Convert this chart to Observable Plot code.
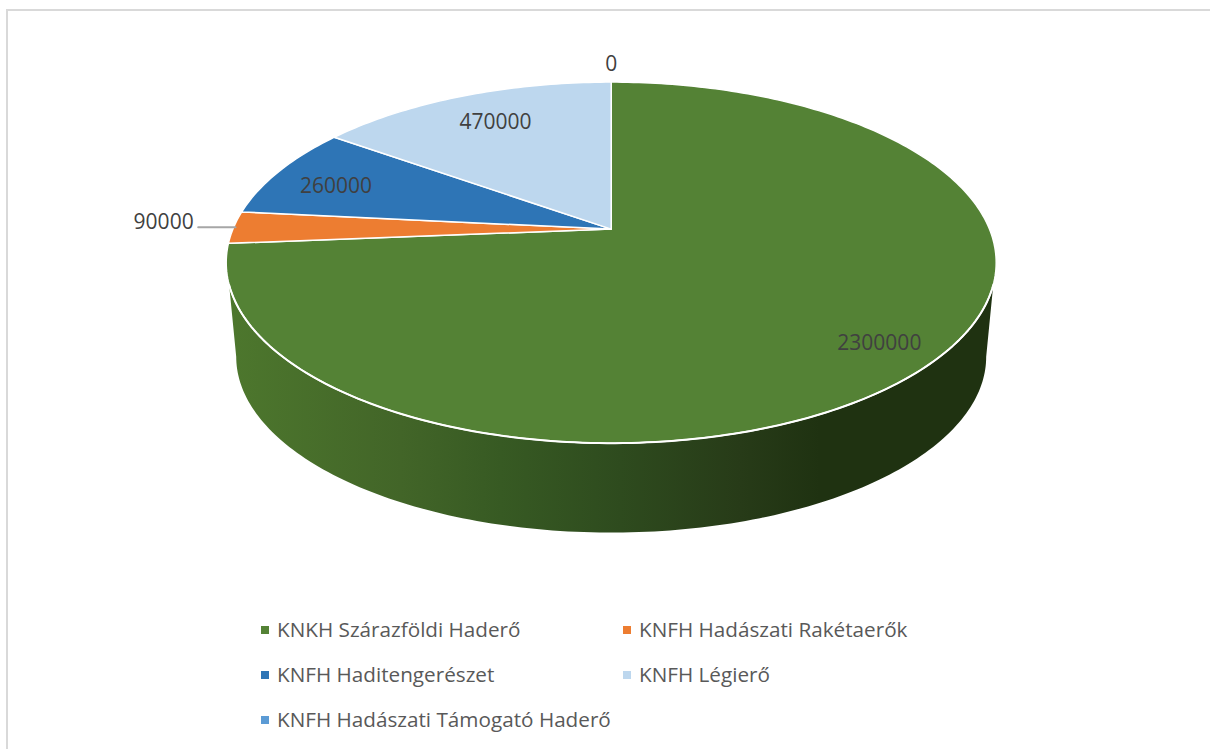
<!DOCTYPE html>
<html lang="hu">
<head>
<meta charset="utf-8">
<script src="https://cdn.jsdelivr.net/npm/d3@7"></script>
<script src="https://cdn.jsdelivr.net/npm/@observablehq/plot@0.6"></script>
<style>
  html, body { margin: 0; padding: 0; background: #fff; overflow: hidden; }
  body { position: relative; width: 1210px; height: 749px; }
  #frame { position: absolute; left: 6px; top: 9px; width: 1300px; height: 800px; border: 2px solid #d9d9d9; box-sizing: content-box; pointer-events: none; }
  #chart { position: absolute; left: 0; top: 0; }
  #chart svg { display: block; }
  #legend { position: absolute; left: 261px; top: 607px; display: grid; grid-template-columns: 362px auto; grid-auto-rows: 45px; font: 20.7px "Open Sans", sans-serif; color: #595959; }
  .item { display: flex; align-items: center; height: 45px; white-space: nowrap; }
  .item .name { position: relative; top: -1px; left: -1px; }
  .swatch { width: 8px; height: 8px; margin-right: 9px; flex: none; }
</style>
</head>
<body>
<div id="chart"></div>
<div id="legend"></div>
<div id="frame"></div>
<script>
// ---- data ----
const names = ["KNKH Szárazföldi Haderő", "KNFH Hadászati Rakétaerők", "KNFH Haditengerészet", "KNFH Légierő", "KNFH Hadászati Támogató Haderő"];
const values = [2300000, 90000, 260000, 470000, 0];
const colors = ["#548235", "#ED7D31", "#2E75B6", "#BDD7EE", "#5B9BD5"];

// ---- label placement (radial fraction, pixel nudges) ----
const labelRadius = [0.86, 1, 0.82, 0.77, 1];
const labelDx = [0, -70, 0, 2, 0];
const labelDy = [0, -5, 5, -1, -18];

// ---- view of the tilted disc ----
const W = 1210, H = 600;
const k = 0.1857;               // perspective strength
const apexPx = [610.7, 228.6], unitPx = [378.3, 174.3];
const base = {scale: 0.974, shift: 95 / 174.3}; // lower rim of the cylinder
const wallFrom = 107.6, wallTo = 252.4;         // top edge of the side wall, degrees
const baseFrom = 100.7, baseTo = 259.3;         // bottom edge of the side wall, degrees
const leaderEnd = -1.0917;

const rad = d => d * Math.PI / 180;
function project(deg, r = 1, rim = {scale: 1, shift: 0}) {
  const u = r * Math.sin(rad(deg)), v = -r * Math.cos(rad(deg)), w = 1 - k * v;
  return {x: rim.scale * u / w, y: rim.scale * v / w + rim.shift};
}
const arc = (a, b, rim) => {
  const n = Math.max(2, Math.ceil(Math.abs(b - a)));
  return d3.range(n + 1).map(i => project(a + (b - a) * i / n, 1, rim));
};

// slices from the values
const total = d3.sum(values);
let acc = 0;
const slices = names.map((name, i) => {
  const a = acc / total * 360; acc += values[i];
  const b = acc / total * 360;
  return {name, value: values[i], a, b, mid: (a + b) / 2, i};
});
const sliceRows = slices.filter(s => s.value > 0).flatMap(s => {
  const ring = [{x: 0, y: 0}, ...arc(s.a, s.b), {x: 0, y: 0}];
  return ring.map(p => ({...p, name: s.name}));
});
const wallRows = [...arc(wallFrom, wallTo), ...arc(baseTo, baseFrom, base)];
wallRows.push(wallRows[0]);
const rimRows = arc(wallFrom, wallTo);
const labelRows = slices.map(s => ({...project(s.mid === 360 ? 0 : s.mid, labelRadius[s.i]), text: String(s.value), dx: labelDx[s.i], dy: labelDy[s.i]}));
const orange = slices[1];
const leaderStart = project(orange.mid);
const leaderRows = [{x: leaderEnd, y: leaderStart.y}, {x: leaderStart.x * 0.995, y: leaderStart.y}];

// gradient of the side wall
const wallStops = [[0, "#4d772d"], [0.225, "#426528"], [0.356, "#375a23"], [0.512, "#2e4b1e"], [0.669, "#273b18"], [0.773, "#1f3211"], [1, "#1f3211"]];
function gradientDefs() {
  const svg = d3.create("svg:defs");
  const g = svg.append("linearGradient").attr("id", "wall");
  wallStops.forEach(([o, c]) => g.append("stop").attr("offset", o).attr("stop-color", c));
  return svg.node();
}

const labelMarks = labelRows.map(d => Plot.text([d], {
  x: "x", y: "y", text: "text", dx: d.dx, dy: d.dy,
  fontSize: 21, fill: "#404040", textAnchor: "middle"
}));

const plot = Plot.plot({
  width: W, height: H,
  margin: 0,
  style: {fontFamily: "'Open Sans', sans-serif", background: "transparent"},
  x: {domain: [-apexPx[0] / unitPx[0], (W - apexPx[0]) / unitPx[0]], range: [0, W], axis: null},
  y: {domain: [-apexPx[1] / unitPx[1], (H - apexPx[1]) / unitPx[1]], range: [0, H], axis: null},
  color: {domain: names, range: colors},
  marks: [
    gradientDefs,
    Plot.line(wallRows, {x: "x", y: "y", fill: "url(#wall)", stroke: "none"}),
    Plot.line(sliceRows, {x: "x", y: "y", z: "name", fill: "name", stroke: "#fff", strokeWidth: 1.5, strokeLinejoin: "round"}),
    Plot.line(rimRows, {x: "x", y: "y", stroke: "#fff", strokeWidth: 2}),
    Plot.line(leaderRows, {x: "x", y: "y", stroke: "#a6a6a6", strokeWidth: 2}),
    ...labelMarks
  ]
});
document.getElementById("chart").append(plot);

// legend
const legend = d3.select("#legend");
names.forEach((n, i) => {
  const item = legend.append("div").attr("class", "item");
  item.append("span").attr("class", "swatch").style("background", colors[i]);
  item.append("span").attr("class", "name").text(n);
});
</script>
</body>
</html>
